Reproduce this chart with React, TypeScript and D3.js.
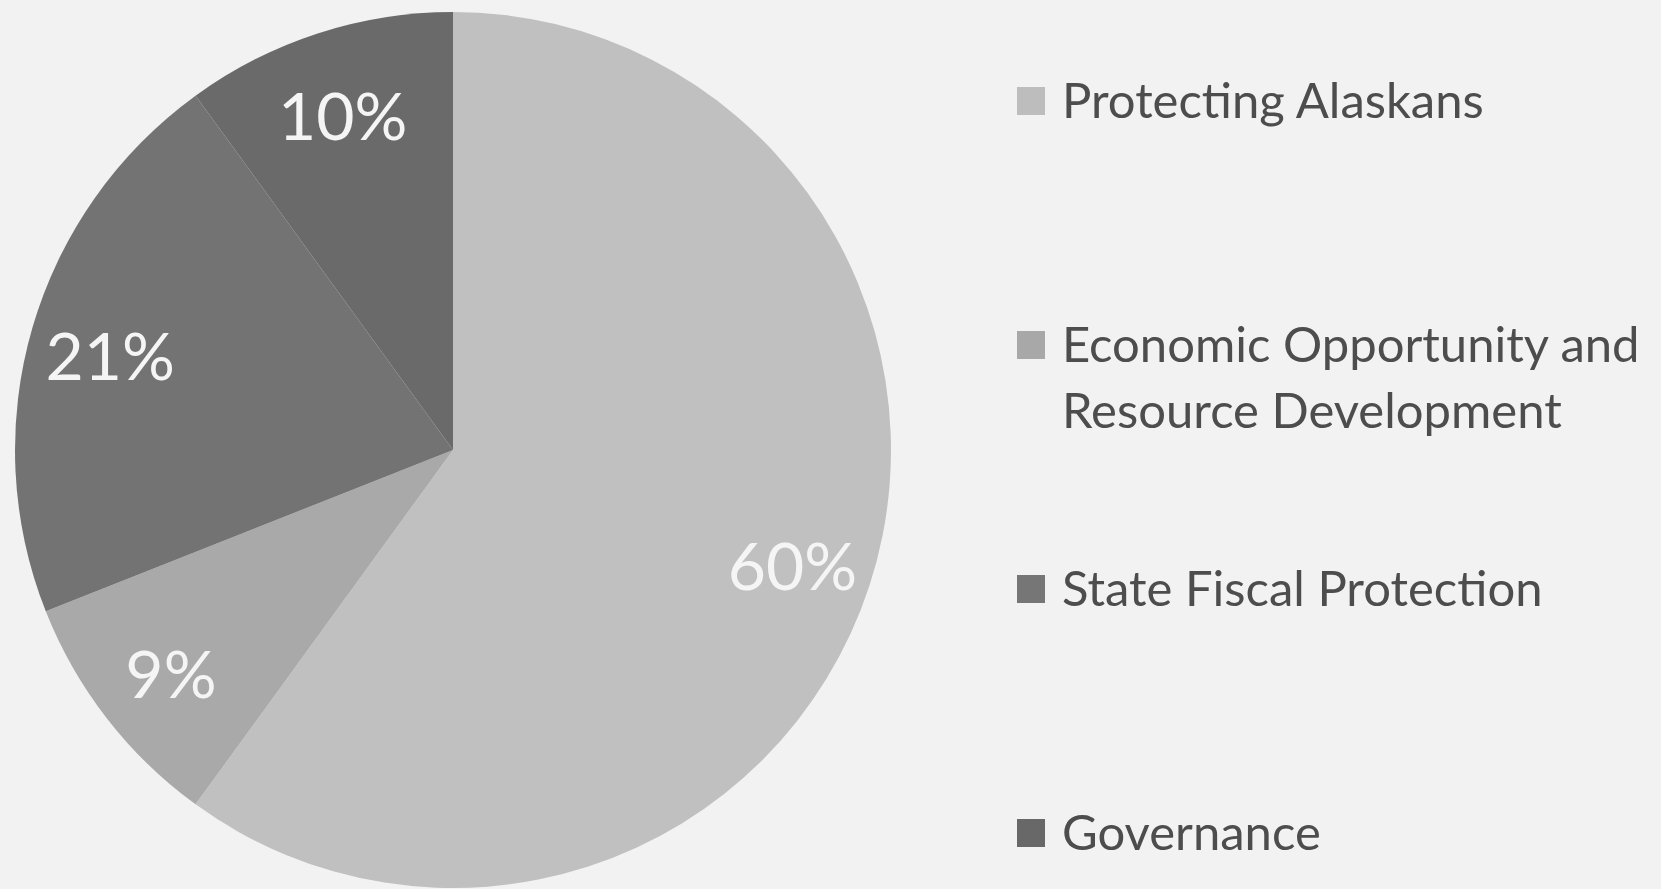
import React from "react";
import * as d3 from "d3";

const categories = [
  "Protecting Alaskans",
  "Economic Opportunity and Resource Development",
  "State Fiscal Protection",
  "Governance",
];
const legendLines = [
  ["Protecting Alaskans"],
  ["Economic Opportunity and", "Resource Development"],
  ["State Fiscal Protection"],
  ["Governance"],
];
const values = [60, 9, 21, 10];
const labels = ["60%", "9%", "21%", "10%"];
const sliceColors = ["#c0c0c0", "#a9a9a9", "#737373", "#6a6a6a"];
const legendColors = ["#bdbdbd", "#a8a8a8", "#767676", "#686868"];

const W = 1661;
const H = 889;
const cx = 453;
const cy = 450;
const R = 438;

export default function App() {
  const pie = d3
    .pie<number>()
    .sort(null)
    .value((d) => d)
    .startAngle(0)
    .endAngle(2 * Math.PI);
  const arcs = pie(values);
  const arc = d3.arc<d3.PieArcDatum<number>>().innerRadius(0).outerRadius(R);
  const labelArc = d3
    .arc<d3.PieArcDatum<number>>()
    .innerRadius(R * 0.815)
    .outerRadius(R * 0.815);

  const font = "Lato, 'Open Sans', sans-serif";

  return (
    <svg
      width={W}
      height={H}
      viewBox={`0 0 ${W} ${H}`}
      style={{ position: "absolute", left: 0, top: 0, display: "block" }}
    >
      <rect x={0} y={0} width={W} height={H} fill="#f2f2f2" />
      <g transform={`translate(${cx},${cy})`}>
        {arcs.map((a, i) => (
          <path key={categories[i]} d={arc(a) || ""} fill={sliceColors[i]} />
        ))}
        {arcs.map((a, i) => {
          const [x, y] = labelArc.centroid(a);
          return (
            <text
              key={"l" + i}
              x={x}
              y={y}
              dy="0.45em"
              textAnchor="middle"
              fontFamily={font}
              fontWeight={400}
              fontSize={66}
              fill="#f5f5f5"
            >
              {labels[i]}
            </text>
          );
        })}
      </g>
      <g>
        {legendLines.map((lines, i) => {
          const base = 118 + 244 * i;
          return (
            <g key={"lg" + i}>
              <rect
                x={1017}
                y={base - 31}
                width={28}
                height={28}
                fill={legendColors[i]}
              />
              {lines.map((ln, j) => (
                <text
                  key={j}
                  x={1062}
                  y={base + 66 * j}
                  fontFamily={font}
                  fontSize={49}
                  fill="#4d4d4d"
                >
                  {ln}
                </text>
              ))}
            </g>
          );
        })}
      </g>
    </svg>
  );
}
